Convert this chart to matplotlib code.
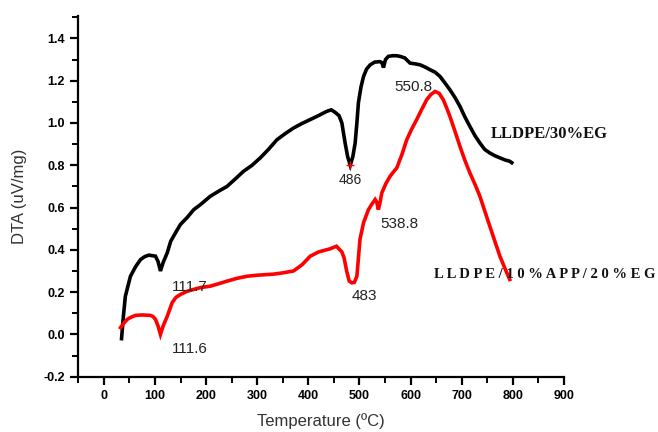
import numpy as np
import matplotlib
matplotlib.use("Agg")
import matplotlib.pyplot as plt
from matplotlib.ticker import MultipleLocator, FormatStrFormatter

# LLDPE/30%EG (black)
t_eg = [34.6, 38, 42, 52, 62, 71.7, 80, 88, 101, 106, 110.7, 116, 124, 130.7, 140,
        149.8, 163, 175.8, 189, 208, 225, 241, 257, 273, 290, 306, 322, 338.7, 355,
        371, 387, 403.7, 420, 436, 445, 452.5, 460, 465.6, 472, 477, 482, 487,
        491.6, 495, 498, 503, 508, 514, 521, 530, 540, 544, 547, 551, 556.6, 565,
        573, 581, 589, 599, 608, 618.5, 628, 638, 648, 657.6, 667, 677, 687,
        696.7, 706, 716, 726, 735.7, 745, 755, 765, 774.8, 785, 794, 798]
dta_eg = [-0.02, 0.08, 0.18, 0.275, 0.32, 0.354, 0.368, 0.375, 0.37, 0.345, 0.30,
          0.34, 0.386, 0.44, 0.48, 0.52, 0.553, 0.590, 0.614, 0.653, 0.678, 0.70,
          0.735, 0.771, 0.80, 0.835, 0.875, 0.921, 0.95, 0.976, 0.997, 1.016, 1.035,
          1.055, 1.062, 1.05, 1.035, 1.0, 0.905, 0.84, 0.80, 0.84, 0.905, 1.0, 1.096,
          1.17, 1.22, 1.255, 1.275, 1.288, 1.29, 1.285, 1.262, 1.30, 1.315, 1.318,
          1.318, 1.314, 1.307, 1.283, 1.28, 1.275, 1.265, 1.252, 1.24, 1.22, 1.19,
          1.157, 1.12, 1.078, 1.03, 0.984, 0.94, 0.905, 0.875, 0.858, 0.845, 0.835,
          0.825, 0.819, 0.812]

# LLDPE/10%APP/20%EG (red)
t_app = [32.6, 38, 45.7, 52, 62, 75, 91, 96, 101, 106, 110.7, 116, 124, 133.6,
         141, 149.8, 162, 175.8, 190, 208, 225, 241, 260, 280, 300, 332, 350, 371,
         388, 403.7, 420, 442.8, 455, 465.6, 470, 475, 480, 485, 490, 495, 498, 501,
         508, 517.6, 524, 530.7, 534, 537, 540, 543.7, 552, 560, 567, 573, 583,
         592.6, 602, 612, 622, 631.6, 640, 648, 656, 664, 670, 677, 687, 696.7,
         706, 716, 726, 735.7, 745, 755, 765, 774.8, 785, 794]
dta_app = [0.032, 0.05, 0.071, 0.08, 0.09, 0.092, 0.09, 0.085, 0.071, 0.04, 0.0,
           0.04, 0.086, 0.15, 0.175, 0.189, 0.203, 0.213, 0.222, 0.228, 0.24,
           0.252, 0.265, 0.275, 0.280, 0.285, 0.291, 0.30, 0.33, 0.37, 0.39, 0.405,
           0.417, 0.39, 0.362, 0.30, 0.252, 0.244, 0.246, 0.275, 0.36, 0.449, 0.528,
           0.59, 0.615, 0.638, 0.625, 0.59, 0.62, 0.669, 0.715, 0.748, 0.77, 0.787,
           0.85, 0.921, 0.97, 1.016, 1.065, 1.11, 1.135, 1.149, 1.14, 1.11, 1.075,
           1.031, 0.96, 0.889, 0.825, 0.764, 0.71, 0.653, 0.585, 0.512, 0.44, 0.37,
           0.31, 0.26]

# peak annotations: (text, x, y, fontsize)
notes = [("111.7", 169, 0.222, 11), ("111.6", 169, -0.071, 11),
         ("486", 482, 0.732, 10), ("483", 509, 0.184, 11),
         ("538.8", 579, 0.52, 11), ("550.8", 605, 1.17, 11)]

fig = plt.figure(figsize=(6.58, 4.32), dpi=100)
ax = fig.add_axes([0.119, 0.128, 0.738, 0.836])

ax.plot(t_eg, dta_eg, color="black", lw=2.6, solid_joinstyle="miter")
ax.plot(t_app, dta_app, color="red", lw=2.6, solid_joinstyle="miter")
ax.plot([482], [0.80], marker="+", color="red", ms=6, mew=1)

for txt, x, y, fs in notes:
    ax.text(x, y, txt, fontsize=fs, ha="center", va="center",
            family="Liberation Sans", color="#222222")

ax.text(757, 0.947, "LLDPE/30%EG", fontsize=12, fontweight="bold",
        family="Liberation Serif", ha="left", va="center", color="#111111")
ax.text(645, 0.283, "L L D P E / 1 0 % A P P / 2 0 % E G", fontsize=10.5,
        fontweight="bold", family="Liberation Serif", ha="left", va="center",
        color="#111111")

ax.set_xlim(-50, 900)
ax.set_ylim(-0.2, 1.508)
ax.spines["top"].set_visible(False)
ax.spines["right"].set_visible(False)
for s in ("left", "bottom"):
    ax.spines[s].set_linewidth(1.6)

ax.xaxis.set_major_locator(MultipleLocator(100))
ax.xaxis.set_minor_locator(MultipleLocator(50))
ax.yaxis.set_major_locator(MultipleLocator(0.2))
ax.yaxis.set_minor_locator(MultipleLocator(0.1))
ax.yaxis.set_major_formatter(FormatStrFormatter("%.1f"))
ax.tick_params(which="major", direction="out", length=6, width=1.6,
               labelsize=9)
ax.tick_params(which="minor", direction="out", length=4, width=1.4)
for lab in ax.get_xticklabels() + ax.get_yticklabels():
    lab.set_fontweight("bold")
    lab.set_family("Liberation Sans")

ax.set_xlabel("Temperature (ºC)", fontsize=12, family="Liberation Sans",
              color="#333333", labelpad=8)
ax.set_ylabel("DTA (uV/mg)", fontsize=12, family="Liberation Sans",
              color="#333333", labelpad=12)

fig.savefig("out.png", dpi=100)
